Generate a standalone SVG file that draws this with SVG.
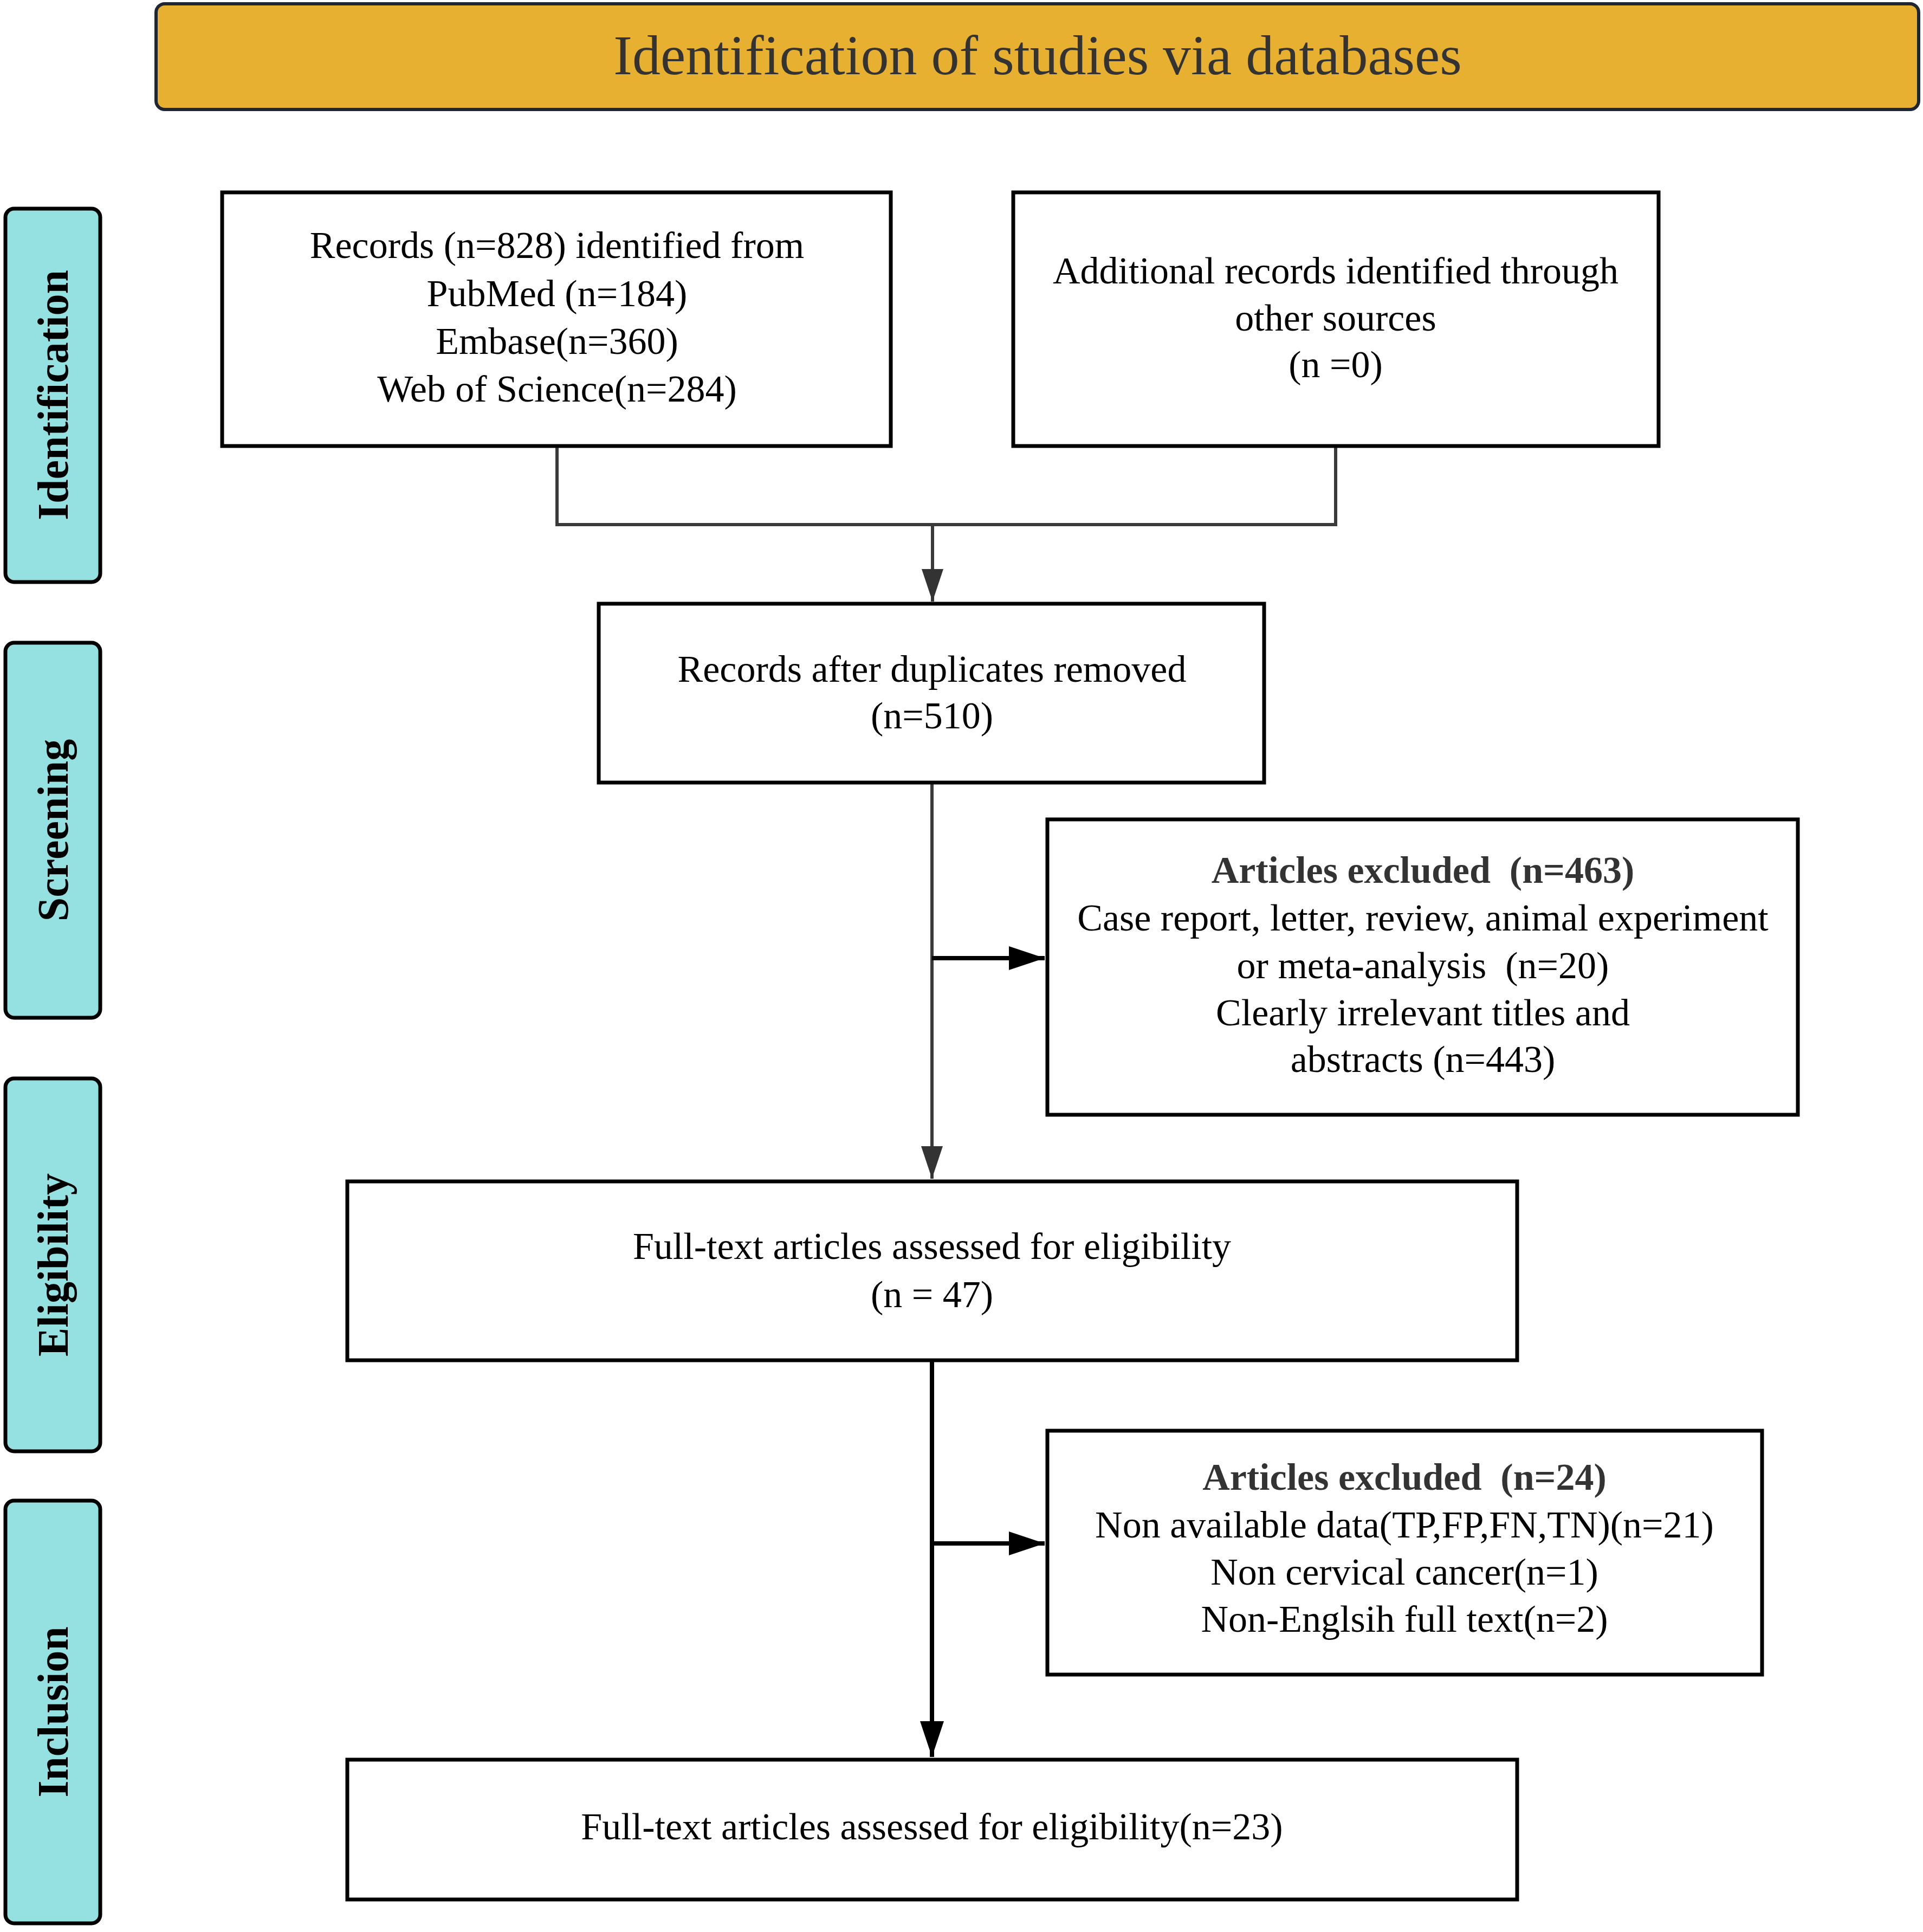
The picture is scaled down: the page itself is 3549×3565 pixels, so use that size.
<svg xmlns="http://www.w3.org/2000/svg" width="3549" height="3565" viewBox="0 0 3549 3565">
<defs>
<style>
.box{fill:#ffffff;stroke:#000000;stroke-width:7}
.side{fill:#95E0E0;stroke:#000000;stroke-width:7}
.t{font-family:"Liberation Serif","Times New Roman",serif;font-size:70px;fill:#000000;text-anchor:middle}
.b{font-weight:bold;fill:#333333}
.st{font-family:"Liberation Serif","Times New Roman",serif;font-size:80px;font-weight:bold;fill:#000000;text-anchor:middle}
.g{fill:none;stroke:#3a3a3a;stroke-width:6}
.k{fill:none;stroke:#000000;stroke-width:8}
</style>
<marker id="ag" markerUnits="userSpaceOnUse" markerWidth="60" markerHeight="40" refX="60" refY="20" orient="auto" viewBox="0 0 60 40">
<path d="M0,0 L60,20 L0,40 Z" fill="#333333"/>
</marker>
<marker id="ak" markerUnits="userSpaceOnUse" markerWidth="66" markerHeight="44" refX="66" refY="22" orient="auto" viewBox="0 0 66 44">
<path d="M0,0 L66,22 L0,44 Z" fill="#000000"/>
</marker>
</defs>
<rect width="3549" height="3565" fill="#ffffff"/>

<g id="header">
<rect x="288" y="7" width="3253" height="195" rx="16" ry="16" fill="#E8B030" stroke="#1e2633" stroke-width="6"/>
<text x="1915" y="137" font-family="Liberation Serif, Times New Roman, serif" font-size="104" fill="#333333" text-anchor="middle">Identification of studies via databases</text>
</g>

<g id="side-identification">
<rect class="side" x="10" y="385" width="175" height="689" rx="16" ry="16"/>
<text class="st" transform="translate(125,729) rotate(-90)">Identification</text>
</g>
<g id="side-screening">
<rect class="side" x="10" y="1186" width="175" height="692" rx="16" ry="16"/>
<text class="st" transform="translate(125,1532) rotate(-90)">Screening</text>
</g>
<g id="side-eligibility">
<rect class="side" x="10" y="1990" width="175" height="688" rx="16" ry="16"/>
<text class="st" transform="translate(125,2334) rotate(-90)">Eligibility</text>
</g>
<g id="side-inclusion">
<rect class="side" x="10" y="2769" width="175" height="780" rx="16" ry="16"/>
<text class="st" transform="translate(125,3159) rotate(-90)">Inclusion</text>
</g>

<g id="connectors">
<polyline class="g" points="1028,825 1028,968 2465,968 2465,825"/>
<line class="g" x1="1721" y1="968" x2="1721" y2="1110" marker-end="url(#ag)"/>
<line class="g" x1="1720" y1="1446" x2="1720" y2="2175" marker-end="url(#ag)"/>
<line class="k" x1="1720" y1="1768" x2="1928" y2="1768" marker-end="url(#ak)"/>
<line class="k" x1="1720" y1="2512" x2="1720" y2="3242" marker-end="url(#ak)"/>
<line class="k" x1="1720" y1="2848" x2="1928" y2="2848" marker-end="url(#ak)"/>
</g>

<g id="node-records">
<rect class="box" x="410" y="355" width="1234" height="468"/>
<text class="t" x="1028" y="476">Records (n=828) identified from</text>
<text class="t" x="1028" y="565">PubMed (n=184)</text>
<text class="t" x="1028" y="653">Embase(n=360)</text>
<text class="t" x="1028" y="741">Web of Science(n=284)</text>
</g>

<g id="node-additional">
<rect class="box" x="1870" y="355" width="1191" height="468"/>
<text class="t" x="2465" y="523">Additional records identified through</text>
<text class="t" x="2465" y="610">other sources</text>
<text class="t" x="2465" y="696">(n =0)</text>
</g>

<g id="node-duplicates">
<rect class="box" x="1105" y="1114" width="1228" height="330"/>
<text class="t" x="1720" y="1258">Records after duplicates removed</text>
<text class="t" x="1720" y="1344">(n=510)</text>
</g>

<g id="node-excluded1">
<rect class="box" x="1933" y="1512" width="1385" height="545"/>
<text class="t b" x="2626" y="1629" xml:space="preserve">Articles excluded  (n=463)</text>
<text class="t" x="2626" y="1717">Case report, letter, review, animal experiment</text>
<text class="t" x="2626" y="1805" xml:space="preserve">or meta-analysis  (n=20)</text>
<text class="t" x="2626" y="1892">Clearly irrelevant titles and</text>
<text class="t" x="2626" y="1978">abstracts (n=443)</text>
</g>

<g id="node-fulltext">
<rect class="box" x="641" y="2180" width="2159" height="330"/>
<text class="t" x="1720" y="2323">Full-text articles assessed for eligibility</text>
<text class="t" x="1720" y="2412">(n = 47)</text>
</g>

<g id="node-excluded2">
<rect class="box" x="1933" y="2640" width="1319" height="450"/>
<text class="t b" x="2592" y="2749" xml:space="preserve">Articles excluded  (n=24)</text>
<text class="t" x="2592" y="2837">Non available data(TP,FP,FN,TN)(n=21)</text>
<text class="t" x="2592" y="2924">Non cervical cancer(n=1)</text>
<text class="t" x="2592" y="3011">Non-Englsih full text(n=2)</text>
</g>

<g id="node-included">
<rect class="box" x="641" y="3247" width="2159" height="258"/>
<text class="t" x="1720" y="3394">Full-text articles assessed for eligibility(n=23)</text>
</g>
</svg>
